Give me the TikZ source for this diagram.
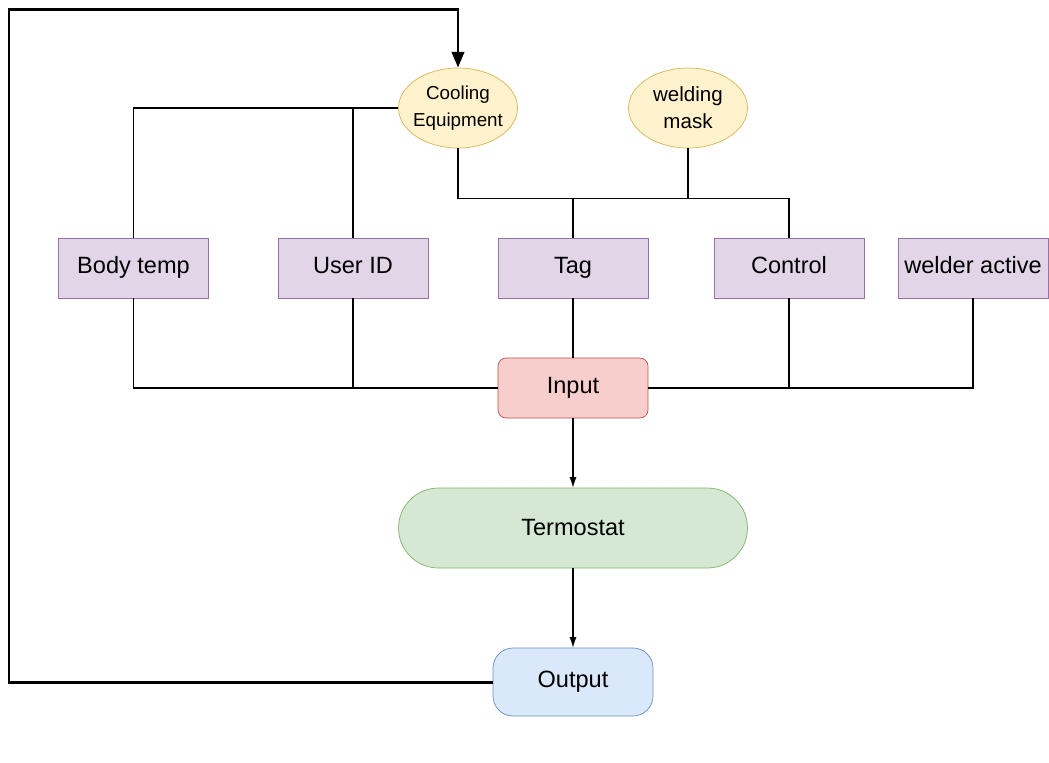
\documentclass[tikz,border=0pt]{standalone}
\usepackage{fontspec}
\setmainfont{Liberation Sans}
\usetikzlibrary{shapes.geometric,arrows.meta}
\definecolor{purplefill}{HTML}{E1D5E7}
\definecolor{purpleline}{HTML}{9673A6}
\definecolor{redfill}{HTML}{F8CECC}
\definecolor{redline}{HTML}{B85450}
\definecolor{greenfill}{HTML}{D5E8D4}
\definecolor{greenline}{HTML}{82B366}
\definecolor{bluefill}{HTML}{DAE8FC}
\definecolor{blueline}{HTML}{6C8EBF}
\definecolor{yellowfill}{HTML}{FFF2CC}
\definecolor{yellowline}{HTML}{D6B656}
\begin{document}
\begin{tikzpicture}[x=0.02cm,y=-0.02cm,
  font=\fontsize{13.4}{16}\selectfont,
  sensor/.style={draw=purpleline,fill=purplefill,minimum width=3cm,minimum height=1.2cm,inner sep=0pt,text height=1.5ex,text depth=.3ex},
  gear/.style={ellipse,draw=yellowline,fill=yellowfill,minimum width=2.38cm,minimum height=1.6cm,inner sep=0pt,inner xsep=-2pt,align=center},
  wire/.style={line width=0.6pt},
  flow/.style={line width=0.6pt,-{Latex[length=6pt,width=4pt]}},
  loop/.style={line width=1.7pt,-{Triangle[length=9pt,width=7pt]}}]
\useasboundingbox (0,0) rectangle (1049,762);
% equipment
\node[gear,font=\fontsize{10.7}{15}\selectfont] (cool) at (458,108) {Cooling\\Equipment};
\node[gear,font=\fontsize{11.7}{15.5}\selectfont] (mask) at (688,108) {welding\\mask};
% sensors
\node[sensor] (body) at (133.5,268) {Body temp};
\node[sensor] (user) at (353,268) {User ID};
\node[sensor] (tag) at (573,268) {Tag};
\node[sensor] (ctrl) at (789,268) {Control};
\node[sensor] (active) at (973,268) {welder active};
% process
\node[draw=redline,fill=redfill,rounded corners=0.16cm,minimum width=3cm,minimum height=1.2cm,inner sep=0pt] (input) at (573,388) {Input};
\node[draw=greenline,fill=greenfill,rounded corners=0.8cm,minimum width=6.98cm,minimum height=1.6cm,inner sep=0pt] (thermo) at (573,528) {Termostat};
\node[draw=blueline,fill=bluefill,rounded corners=0.4cm,minimum width=3.2cm,minimum height=1.36cm,inner sep=0pt] (output) at (573,682) {Output};
% upper wiring
\draw[wire] (cool.west) -| (body.north);
\draw[wire] (user.north) |- (cool.west);
\draw[wire] (cool.south) -- ++(0,50) -| (ctrl.north);
\draw[wire] (mask.south) -- ++(0,50);
\draw[wire] (tag.north) -- ++(0,-40);
% lower wiring
\draw[wire] (body.south) |- (input.west);
\draw[wire] (user.south) |- (input.west);
\draw[wire] (tag.south) -- (input.north);
\draw[wire] (ctrl.south) |- (input.east);
\draw[wire] (active.south) |- (input.east);
\draw[flow] (input) -- (thermo);
\draw[flow] (thermo) -- (output);
% feedback
\coordinate (corner) at (9,9);
\draw[loop] (output.west) -| (corner) -| (cool.north);
\end{tikzpicture}
\end{document}
